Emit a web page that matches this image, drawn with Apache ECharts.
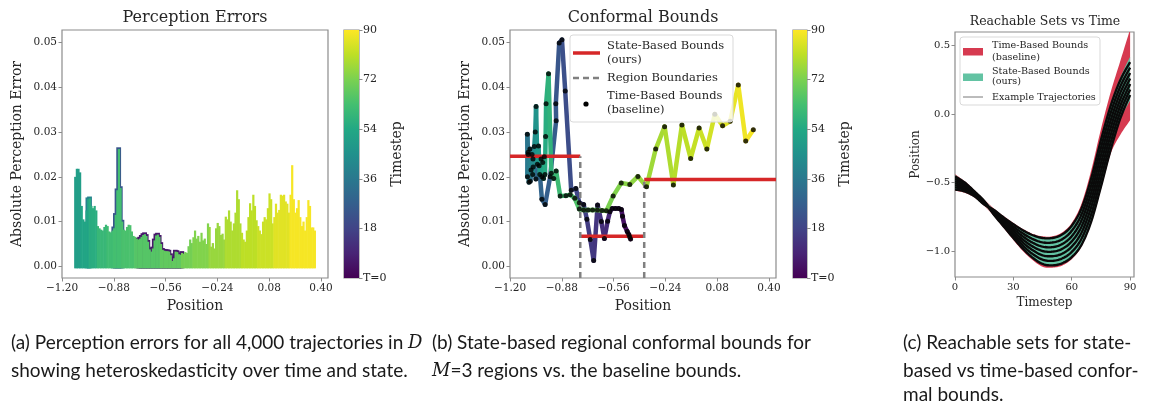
<!DOCTYPE html>
<html>
<head>
<meta charset="utf-8">
<script src="https://cdn.jsdelivr.net/npm/echarts@6/dist/echarts.min.js"></script>
<style>
  html, body { margin: 0; padding: 0; background: #fff; }
  #chart { width: 1150px; height: 402px; }
</style>
</head>
<body>
<div id="chart"></div>
<script>
// ---------- data ----------
// (a) max perception error per position bin, and the timestep colour of that bin
const aBinStart = -1.125;
const aBinWidth = 0.01;
const aErr = [
  0.0200, 0.0218, 0.0218, 0.0210, 0.0135, 0.0105, 0.0100, 0.0125, 0.0150, 0.0152,
  0.0135, 0.0130, 0.0135, 0.0125, 0.0090, 0.0085, 0.0082, 0.0080, 0.0088, 0.0093,
  0.0090, 0.0078, 0.0076, 0.0080, 0.0085, 0.0115, 0.0170, 0.0262, 0.0175, 0.0100,
  0.0082, 0.0080, 0.0088, 0.0093, 0.0092, 0.0078, 0.0068, 0.0066, 0.0062, 0.0060,
  0.0062, 0.0066, 0.0070, 0.0072, 0.0068, 0.0055, 0.0038, 0.0033, 0.0040, 0.0058,
  0.0069, 0.0071, 0.0066, 0.0050, 0.0037, 0.0035, 0.0034, 0.0034, 0.0033, 0.0025,
  0.0012, 0.0018, 0.0033, 0.0032, 0.0027, 0.0026,
  0.0030, 0.0028, 0.0032, 0.0030, 0.0045, 0.0060, 0.0052, 0.0065, 0.0080, 0.0062,
  0.0068, 0.0055, 0.0075, 0.0058, 0.0062, 0.0050, 0.0096, 0.0088, 0.0044, 0.0052,
  0.0040, 0.0085, 0.0097, 0.0090, 0.0070, 0.0073, 0.0060, 0.0111, 0.0105, 0.0125,
  0.0100, 0.0080, 0.0096, 0.0120, 0.0170, 0.0150, 0.0096, 0.0075, 0.0060, 0.0055,
  0.0080, 0.0110, 0.0141, 0.0125, 0.0160, 0.0135, 0.0103, 0.0090, 0.0080, 0.0072,
  0.0100, 0.0110, 0.0105, 0.0130, 0.0163, 0.0150, 0.0096, 0.0110, 0.0140, 0.0120,
  0.0126, 0.0160, 0.0158, 0.0160, 0.0145, 0.0140, 0.0120, 0.0160, 0.0226, 0.0150,
  0.0120, 0.0130, 0.0148, 0.0110, 0.0090, 0.0100, 0.0080, 0.0110, 0.0148, 0.0135,
  0.0087, 0.0087, 0.0080
];
const aStep = [
  50, 50, 50, 50, 53, 53, 53, 53, 53, 56, 56, 56, 56, 56, 60, 60, 60, 60, 60, 60,
  62, 62, 62, 62, 63, 63, 63, 63, 63, 64, 64, 64, 64, 64, 64, 64, 64, 66, 66, 66,
  66, 66, 66, 66, 66, 66, 66, 66, 66, 66, 66, 66, 66, 68, 68, 68, 68, 68, 68, 68,
  68, 68, 68, 68, 68, 68,
  71, 71, 71, 71, 71, 71, 71, 73, 73, 73, 73, 73, 73, 73, 73, 73, 73,
  76, 76, 76, 76, 76, 76, 76, 76, 76, 76, 79, 79, 79, 79, 79, 79, 79, 79, 79, 79,
  81, 81, 81, 81, 81, 81, 81, 81, 81, 81, 83, 83, 83, 83, 83, 83, 83, 83, 83, 83,
  86, 86, 86, 86, 86, 86, 86, 86, 86, 86,
  89, 89, 89, 89, 89, 89, 89, 89, 89, 89, 89, 89, 89, 89, 89, 89
];
// early-timestep markers that outline parts of the cloud: [from, to, timestep]
const aEdges = [[-0.735, -0.455, 6], [-0.885, -0.825, 24], [-1.045, -1.025, 40]];

// (b) time-based bound per timestep (index = timestep) at the mean position
const bPos = [
  -0.455, -0.461, -0.466, -0.476, -0.493, -0.505, -0.512, -0.528, -0.549, -0.569,
  -0.583, -0.597, -0.617, -0.636, -0.659, -0.683, -0.704, -0.725, -0.745, -0.772,
  -0.793, -0.822, -0.859, -0.879, -0.896, -0.917, -0.915, -0.952, -0.983, -1.003,
  -1.020, -1.040, -1.058, -1.075, -1.088, -1.093, -1.092, -1.088, -1.083, -1.077,
  -1.070, -1.064, -1.060, -1.057, -1.050, -1.044, -1.039, -1.031, -1.024, -1.016,
  -1.008, -1.003, -0.998, -0.993, -0.988, -0.984, -0.980, -0.977, -0.962, -0.945,
  -0.930, -0.915, -0.890, -0.855, -0.828, -0.800, -0.772, -0.745, -0.718, -0.690,
  -0.660, -0.632, -0.605, -0.563, -0.513, -0.460, -0.410, -0.357, -0.300, -0.245,
  -0.191, -0.138, -0.084, -0.032, 0.016, 0.065, 0.113, 0.160, 0.210, 0.256, 0.303
];
const bErr = [
  0.0061, 0.0066, 0.0071, 0.0078, 0.0091, 0.0112, 0.0127, 0.0129, 0.0129, 0.0129,
  0.0122, 0.0101, 0.0062, 0.0100, 0.0137, 0.0013, 0.0060, 0.0105, 0.0138, 0.0142,
  0.0174, 0.0170, 0.0392, 0.0506, 0.0499, 0.0363, 0.0325, 0.0200, 0.0138, 0.0150,
  0.0225, 0.0195, 0.0240, 0.0190, 0.0250, 0.0295, 0.0200, 0.0255, 0.0188, 0.0262,
  0.0215, 0.0250, 0.0205, 0.0222, 0.0268, 0.0300, 0.0357, 0.0228, 0.0269, 0.0205,
  0.0240, 0.0200, 0.0232, 0.0196, 0.0245, 0.0205, 0.0290, 0.0363, 0.0430, 0.0208,
  0.0196, 0.0213, 0.0157, 0.0158, 0.0160, 0.0152, 0.0128, 0.0126, 0.0126, 0.0126,
  0.0126, 0.0125, 0.0124, 0.0157, 0.0186, 0.0183, 0.0201, 0.0178, 0.0262, 0.0312,
  0.0182, 0.0316, 0.0241, 0.0309, 0.0262, 0.0340, 0.0314, 0.0324, 0.0405, 0.0280, 0.0305
];
const regionEdges = [-0.766, -0.371];
const regionBounds = [0.0246, 0.0067, 0.0194];

// (c) reachable sets, sampled every 5 timesteps
const cSteps = [0, 5, 10, 15, 20, 25, 30, 35, 40, 45, 50, 55, 60, 65, 70, 75, 80, 85, 90];
const cTimeHi = [-0.440, -0.490, -0.555, -0.625, -0.690, -0.745, -0.795, -0.840, -0.875, -0.893, -0.893, -0.865, -0.795, -0.655, -0.410, -0.110, 0.160, 0.390, 0.620];
const cTimeLo = [-0.560, -0.575, -0.610, -0.670, -0.745, -0.832, -0.920, -1.002, -1.068, -1.115, -1.122, -1.107, -1.060, -0.968, -0.798, -0.550, -0.290, -0.150, -0.045];
const cStateHi = [-0.445, -0.495, -0.560, -0.630, -0.695, -0.750, -0.800, -0.845, -0.880, -0.900, -0.900, -0.875, -0.810, -0.680, -0.450, -0.170, 0.080, 0.270, 0.420];
const cStateLo = [-0.555, -0.570, -0.605, -0.665, -0.740, -0.825, -0.910, -0.990, -1.055, -1.100, -1.110, -1.095, -1.050, -0.960, -0.790, -0.540, -0.270, -0.040, 0.100];
const cTraj = [
  [-0.455, -0.500, -0.565, -0.635, -0.735, -0.820, -0.905, -0.985, -1.050, -1.095, -1.105, -1.090, -1.045, -0.955, -0.785, -0.530, -0.260, -0.030, 0.140],
  [-0.471, -0.511, -0.571, -0.639, -0.729, -0.809, -0.888, -0.963, -1.023, -1.063, -1.072, -1.055, -1.007, -0.911, -0.733, -0.473, -0.207, 0.017, 0.180],
  [-0.487, -0.522, -0.577, -0.643, -0.723, -0.798, -0.872, -0.940, -0.995, -1.032, -1.038, -1.020, -0.968, -0.867, -0.680, -0.417, -0.153, 0.063, 0.220],
  [-0.503, -0.533, -0.583, -0.648, -0.718, -0.788, -0.855, -0.918, -0.968, -1.000, -1.005, -0.985, -0.930, -0.823, -0.628, -0.360, -0.100, 0.110, 0.260],
  [-0.518, -0.543, -0.588, -0.652, -0.712, -0.777, -0.838, -0.895, -0.940, -0.968, -0.972, -0.950, -0.892, -0.778, -0.575, -0.303, -0.047, 0.157, 0.300],
  [-0.534, -0.554, -0.594, -0.656, -0.706, -0.766, -0.822, -0.873, -0.913, -0.937, -0.938, -0.915, -0.853, -0.734, -0.523, -0.247, 0.007, 0.203, 0.340],
  [-0.550, -0.565, -0.600, -0.660, -0.700, -0.755, -0.805, -0.850, -0.885, -0.905, -0.905, -0.880, -0.815, -0.690, -0.470, -0.190, 0.060, 0.250, 0.380]
];

// tick labels
const posTicks = [-1.2, -0.88, -0.56, -0.24, 0.08, 0.4];
const errTicks = [0, 0.01, 0.02, 0.03, 0.04, 0.05];
const stepTicks = [0, 18, 36, 54, 72, 90];
const cXTicks = [0, 30, 60, 90];
const cYTicks = [-1, -0.5, 0, 0.5];

// ---------- style ----------
const serif = 'DejaVu Serif';
const ink = '#262626';
const frame = '#8c8c8c';
const viridis = ['#440154', '#482475', '#414487', '#355f8d', '#2a788e', '#21918c',
                 '#22a884', '#44bf70', '#7ad151', '#bddf26', '#fde725'];
const red = '#d62728';
const bandRed = '#d63a50';
const bandGreen = '#63c3a3';

const minus = s => s.replace('-', '\u2212');
const fmt2 = v => minus(v.toFixed(2));
const fmt1 = v => minus(v.toFixed(1));

// ---------- build series data ----------
const aBins = aErr.map((e, i) => [aBinStart + aBinWidth * (i + 0.5), e, aStep[i]]);
const aOutline = [];
aEdges.forEach(([from, to, t]) => {
  aBins.forEach(b => { if (b[0] >= from && b[0] <= to) aOutline.push([b[0], b[1], t]); });
});
const bSegs = [];
for (let i = 0; i < bPos.length - 1; i++) {
  bSegs.push([bPos[i], bErr[i], i, bPos[i + 1], bErr[i + 1]]);
}
const xMin = -1.2, xMax = 0.443, yMin = -0.0026, yMax = 0.0528;
const regionSegs = regionBounds.map((b, i) => [
  i === 0 ? xMin : regionEdges[i - 1], i === regionBounds.length - 1 ? xMax : regionEdges[i], b
]);
const regionLines = regionEdges.map((e, i) => [e, Math.max(regionBounds[i], regionBounds[i + 1])]);

// ---------- renderers ----------
function renderBin(params, api) {
  const x = api.value(0), h = api.value(1);
  const p0 = api.coord([x - aBinWidth / 2, 0]);
  const p1 = api.coord([x + aBinWidth / 2, h]);
  return {
    type: 'rect',
    shape: { x: p0[0], y: p1[1], width: p1[0] - p0[0] + 0.6, height: p0[1] - p1[1] + 2 },
    style: { fill: api.visual('color') }
  };
}
function renderOutline(params, api) {
  const x = api.value(0), h = api.value(1);
  const p0 = api.coord([x - aBinWidth / 2, 0]);
  const p1 = api.coord([x + aBinWidth / 2, h]);
  return {
    type: 'rect',
    shape: { x: p0[0] - 1.6, y: p1[1] - 1.8, width: p1[0] - p0[0] + 3.2, height: p0[1] - p1[1] + 3.8 },
    style: { fill: api.visual('color') }
  };
}
function renderSeg(params, api) {
  const a = api.coord([api.value(0), api.value(1)]);
  const b = api.coord([api.value(3), api.value(4)]);
  return {
    type: 'line',
    shape: { x1: a[0], y1: a[1], x2: b[0], y2: b[1] },
    style: { stroke: api.visual('color'), lineWidth: 4.5, lineCap: 'round' }
  };
}
function renderRegion(params, api) {
  const a = api.coord([api.value(0), api.value(2)]);
  const b = api.coord([api.value(1), api.value(2)]);
  return { type: 'line', shape: { x1: a[0], y1: a[1], x2: b[0], y2: b[1] },
           style: { stroke: red, lineWidth: 3.5 } };
}
function renderBoundary(params, api) {
  const a = api.coord([api.value(0), yMin]);
  const b = api.coord([api.value(0), api.value(1)]);
  return { type: 'line', shape: { x1: a[0], y1: a[1], x2: b[0], y2: b[1] },
           style: { stroke: '#808080', lineWidth: 2.5, lineDash: [6, 4] } };
}
function renderColorbar(params, api) {
  const a = api.coord([0, 90]);
  const b = api.coord([1, 0]);
  const stops = viridis.map((c, i) => ({ offset: i / (viridis.length - 1), color: c }));
  return { type: 'rect', shape: { x: a[0], y: a[1], width: b[0] - a[0], height: b[1] - a[1] },
           style: { fill: new echarts.graphic.LinearGradient(0, 1, 0, 0, stops) } };
}
// smooth curve through screen points (drawing only)
function spline(pts, n) {
  const out = [];
  for (let i = 0; i < pts.length - 1; i++) {
    const p0 = pts[Math.max(i - 1, 0)], p1 = pts[i], p2 = pts[i + 1], p3 = pts[Math.min(i + 2, pts.length - 1)];
    for (let k = 0; k < n; k++) {
      const s = k / n, s2 = s * s, s3 = s2 * s;
      out.push([0, 1].map(d => 0.5 * (2 * p1[d] + (p2[d] - p0[d]) * s +
        (2 * p0[d] - 5 * p1[d] + 4 * p2[d] - p3[d]) * s2 + (3 * p1[d] - p0[d] - 3 * p2[d] + p3[d]) * s3)));
    }
  }
  out.push(pts[pts.length - 1]);
  return out;
}
function bandRenderer(lo, hi, color) {
  return function (params, api) {
    const top = spline(cSteps.map((t, i) => api.coord([t, hi[i]])), 8);
    const bot = spline(cSteps.map((t, i) => api.coord([t, lo[i]])), 8);
    return { type: 'polygon', shape: { points: top.concat(bot.reverse()) }, style: { fill: color } };
  };
}
function renderTraj(params, api) {
  const tr = cTraj[api.value(0)];
  const pts = spline(cSteps.map((t, i) => api.coord([t, tr[i]])), 8);
  return { type: 'polyline', shape: { points: pts }, style: { stroke: '#0a0a0a', lineWidth: 2.4, fill: 'none' } };
}

// ---------- axes ----------
const labelStyle = (size) => ({ color: ink, fontFamily: serif, fontSize: size });
const tickStyle = { show: true, length: 3.5, lineStyle: { color: frame, width: 1 } };
const noLine = { show: false, onZero: false };

function posXAxis(gi) {
  return {
    type: 'value', gridIndex: gi, min: xMin, max: xMax,
    axisLine: noLine, splitLine: { show: false },
    axisTick: Object.assign({ customValues: posTicks }, tickStyle),
    axisLabel: Object.assign({ customValues: posTicks, formatter: fmt2, margin: 5 }, labelStyle(10.5)),
    name: 'Position', nameLocation: 'middle', nameGap: 19, nameTextStyle: labelStyle(14)
  };
}
function errYAxis(gi) {
  return {
    type: 'value', gridIndex: gi, min: yMin, max: yMax,
    axisLine: noLine, splitLine: { show: false },
    axisTick: Object.assign({ customValues: errTicks }, tickStyle),
    axisLabel: Object.assign({ customValues: errTicks, formatter: fmt2, margin: 5 }, labelStyle(10.5)),
    name: 'Absolute Perception Error', nameLocation: 'middle', nameGap: 38, nameRotate: 90,
    nameTextStyle: labelStyle(14)
  };
}
function barXAxis(gi) {
  return { type: 'value', gridIndex: gi, min: 0, max: 1, show: false, axisLine: noLine };
}
function barYAxis(gi) {
  return {
    type: 'value', gridIndex: gi, min: 0, max: 90, position: 'right',
    axisLine: noLine, splitLine: { show: false },
    axisTick: Object.assign({ customValues: stepTicks }, tickStyle),
    axisLabel: Object.assign({ customValues: stepTicks, margin: 4,
      formatter: v => (v === 0 ? 'T=0' : String(v)) }, labelStyle(11)),
    name: 'Timestep', nameLocation: 'middle', nameGap: 31, nameRotate: 90,
    nameTextStyle: labelStyle(14)
  };
}
const gridBase = { show: true, borderColor: frame, borderWidth: 1.2, backgroundColor: 'transparent', containLabel: false };

// ---------- graphics: titles, legends, captions ----------
const txt = (x, y, text, size, extra) => ({
  type: 'text', x, y, silent: true,
  style: Object.assign({ text, fill: ink, font: size + 'px "' + serif + '"', verticalAlign: 'middle' }, extra || {})
});
const capStyle = { fill: '#1a1a1a', fontFamily: 'Lato', fontSize: 19, verticalAlign: 'middle',
  rich: { i: { fontFamily: serif, fontStyle: 'italic', fontSize: 18 } } };
const cap = (x, y, text) => ({ type: 'text', x, y, silent: true, style: Object.assign({ text }, capStyle) });

const graphics = [
  txt(195, 18, 'Perception Errors', 16, { align: 'center' }),
  txt(643, 18, 'Conformal Bounds', 16, { align: 'center' }),
  txt(1045, 22, 'Reachable Sets vs Time', 12.5, { align: 'center' }),
  // legend (b)
  { type: 'rect', shape: { x: 570, y: 35, width: 163, height: 87, r: 3 }, z: 100,
    style: { fill: 'rgba(255,255,255,0.8)', stroke: '#d9d9d9', lineWidth: 1 } },
  { type: 'line', shape: { x1: 573, y1: 53, x2: 600, y2: 53 }, z: 101, style: { stroke: red, lineWidth: 3.5 } },
  { type: 'line', shape: { x1: 573, y1: 78, x2: 600, y2: 78 }, z: 101,
    style: { stroke: '#808080', lineWidth: 2.5, lineDash: [6, 4] } },
  { type: 'circle', shape: { cx: 586, cy: 104, r: 2.6 }, z: 101, style: { fill: '#000' } },
  Object.assign(txt(607, 46, 'State-Based Bounds', 11.5), { z: 101 }),
  Object.assign(txt(607, 60, '(ours)', 11.5), { z: 101 }),
  Object.assign(txt(607, 78, 'Region Boundaries', 11.5), { z: 101 }),
  Object.assign(txt(607, 96, 'Time-Based Bounds', 11.5), { z: 101 }),
  Object.assign(txt(607, 110, '(baseline)', 11.5), { z: 101 }),
  // legend (c)
  { type: 'rect', shape: { x: 960, y: 37, width: 140, height: 68, r: 3 }, z: 100,
    style: { fill: 'rgba(255,255,255,0.8)', stroke: '#d9d9d9', lineWidth: 1 } },
  { type: 'rect', shape: { x: 963, y: 48, width: 20, height: 7.5 }, z: 101, style: { fill: bandRed } },
  { type: 'rect', shape: { x: 963, y: 73.5, width: 20, height: 7.5 }, z: 101, style: { fill: bandGreen } },
  { type: 'line', shape: { x1: 963, y1: 97, x2: 983, y2: 97 }, z: 101, style: { stroke: '#555', lineWidth: 0.8 } },
  Object.assign(txt(992, 45, 'Time-Based Bounds', 9.6), { z: 101 }),
  Object.assign(txt(992, 57, '(baseline)', 9.6), { z: 101 }),
  Object.assign(txt(992, 71, 'State-Based Bounds', 9.6), { z: 101 }),
  Object.assign(txt(992, 81.5, '(ours)', 9.6), { z: 101 }),
  Object.assign(txt(992, 97, 'Example Trajectories', 9.6), { z: 101 }),
  // captions
  cap(11, 343, '(a) Perception errors for all 4,000 trajectories in {i|D}'),
  cap(11, 371, 'showing heteroskedasticity over time and state.'),
  cap(432, 343, '(b) State-based regional conformal bounds for'),
  cap(432, 371, '{i|M}=3 regions vs. the baseline bounds.'),
  cap(903, 343, '(c) Reachable sets for state-'),
  cap(903, 371, 'based vs time-based confor-'),
  cap(903, 395, 'mal bounds.')
];

// ---------- chart ----------
const option = {
  animation: false,
  backgroundColor: '#fff',
  grid: [
    Object.assign({ left: 62, top: 30, width: 266, height: 248 }, gridBase),
    Object.assign({ left: 510, top: 30, width: 266, height: 248 }, gridBase),
    Object.assign({ left: 955, top: 32, width: 179, height: 245 }, gridBase),
    Object.assign({ left: 344, top: 30, width: 15, height: 248 }, gridBase),
    Object.assign({ left: 793, top: 30, width: 14, height: 248 }, gridBase)
  ],
  xAxis: [
    posXAxis(0), posXAxis(1),
    {
      type: 'value', gridIndex: 2, min: 0, max: 92,
      axisLine: noLine, splitLine: { show: false },
      axisTick: Object.assign({ customValues: cXTicks }, tickStyle),
      axisLabel: Object.assign({ customValues: cXTicks, margin: 5 }, labelStyle(10)),
      name: 'Timestep', nameLocation: 'middle', nameGap: 19, nameTextStyle: labelStyle(12)
    },
    barXAxis(3), barXAxis(4)
  ],
  yAxis: [
    errYAxis(0), errYAxis(1),
    {
      type: 'value', gridIndex: 2, min: -1.19, max: 0.6,
      axisLine: noLine, splitLine: { show: false },
      axisTick: Object.assign({ customValues: cYTicks }, tickStyle),
      axisLabel: Object.assign({ customValues: cYTicks, formatter: fmt1, margin: 5 }, labelStyle(10)),
      name: 'Position', nameLocation: 'middle', nameGap: 33, nameRotate: 90, nameTextStyle: labelStyle(12)
    },
    barYAxis(3), barYAxis(4)
  ],
  visualMap: [{
    type: 'continuous', show: false, seriesIndex: [0, 1, 2], dimension: 2,
    min: 0, max: 90, inRange: { color: viridis }
  }],
  graphic: graphics,
  series: [
    { type: 'custom', xAxisIndex: 0, yAxisIndex: 0, data: aOutline, renderItem: renderOutline, silent: true },
    { type: 'custom', xAxisIndex: 0, yAxisIndex: 0, data: aBins, renderItem: renderBin, silent: true },
    { type: 'custom', xAxisIndex: 1, yAxisIndex: 1, data: bSegs, renderItem: renderSeg, silent: true },
    { type: 'custom', xAxisIndex: 1, yAxisIndex: 1, data: regionSegs, renderItem: renderRegion, silent: true },
    { type: 'custom', xAxisIndex: 1, yAxisIndex: 1, data: regionLines, renderItem: renderBoundary, silent: true },
    { type: 'scatter', xAxisIndex: 1, yAxisIndex: 1, data: bPos.map((x, i) => [x, bErr[i]]),
      symbolSize: 5, itemStyle: { color: '#000' }, silent: true },
    { type: 'custom', xAxisIndex: 3, yAxisIndex: 3, data: [[0]], renderItem: renderColorbar, silent: true },
    { type: 'custom', xAxisIndex: 4, yAxisIndex: 4, data: [[0]], renderItem: renderColorbar, silent: true },
    { type: 'custom', xAxisIndex: 2, yAxisIndex: 2, data: [[0]], clip: true, silent: true,
      renderItem: bandRenderer(cTimeLo, cTimeHi, bandRed) },
    { type: 'custom', xAxisIndex: 2, yAxisIndex: 2, data: [[0]], clip: true, silent: true,
      renderItem: bandRenderer(cStateLo, cStateHi, bandGreen) },
    { type: 'custom', xAxisIndex: 2, yAxisIndex: 2, data: cTraj.map((tr, i) => [i]), clip: true, silent: true,
      renderItem: renderTraj }
  ]
};

const myChart = echarts.init(document.getElementById('chart'), null, { renderer: 'canvas' });
myChart.setOption(option);
window.addEventListener('resize', () => myChart.resize());
</script>
</body>
</html>
